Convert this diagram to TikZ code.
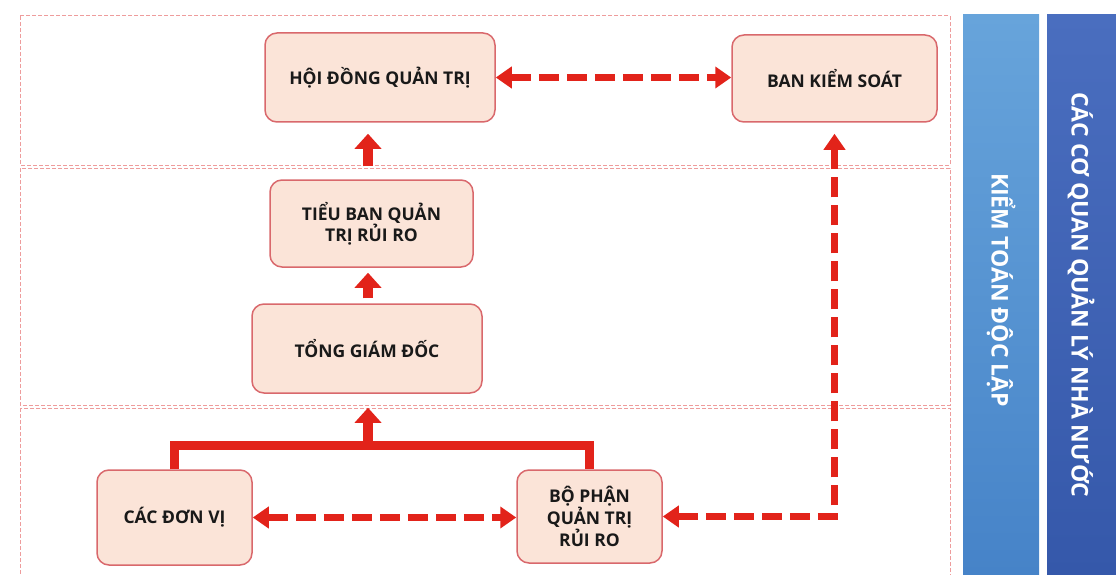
\documentclass[tikz,border=0pt]{standalone}
\usepackage{fontspec}
\setmainfont{Open Sans}
\usetikzlibrary{arrows.meta}
\definecolor{boxfill}{HTML}{FBE4D8}
\definecolor{boxline}{HTML}{D9686C}
\definecolor{arrowred}{HTML}{E2231A}
\definecolor{zoneline}{HTML}{EE9C9C}
\definecolor{barlight}{HTML}{67A4DB}
\definecolor{barlightb}{HTML}{4683C8}
\definecolor{bardark}{HTML}{4A6EBF}
\definecolor{bardarkb}{HTML}{3558AA}
\begin{document}
\begin{tikzpicture}[x=1pt, y=-1pt,
  unitbox/.style={draw=boxline, line width=1.5pt, fill=boxfill, rounded corners=12pt, align=center,
    inner sep=0pt, text=black!90, font=\fontsize{17.5}{21}\selectfont\bfseries},
  zone/.style={draw=zoneline, line width=1pt, dash pattern=on 4pt off 2pt},
  fatarrow/.style={draw=arrowred, line width=10pt, -{Triangle[length=15pt,width=26pt]}},
  dasharrow/.style={draw=arrowred, line width=6.5pt, dash pattern=on 20pt off 8pt,
    {Triangle[length=16pt,width=21pt]}-{Triangle[length=16pt,width=21pt]}},
  bracket/.style={draw=arrowred, line width=9pt, line join=miter},
  bartext/.style={rotate=-90, text=white, font=\fontsize{23}{26}\selectfont\bfseries}]
\useasboundingbox (0,0) rectangle (1116,575);

\draw[zone] (20,16) rectangle (950,165);
\draw[zone] (20,168) rectangle (950,405);
\draw[zone] (20,408) rectangle (950,580);

\shade[top color=barlight, bottom color=barlightb] (963,15) rectangle (1039,575);
\shade[top color=bardark, bottom color=bardarkb] (1047,15) rectangle (1116,575);
\node[bartext] (ktdl) at (1001,290) {KIỂM TOÁN ĐỘC LẬP};
\node[bartext] (cqql) at (1081,295) {CÁC CƠ QUAN QUẢN LÝ NHÀ NƯỚC};

\node[unitbox, minimum width=230pt, minimum height=89pt] (hdqt) at (380,77.5) {HỘI ĐỒNG QUẢN TRỊ};
\node[unitbox, minimum width=205pt, minimum height=87pt] (bks) at (834.5,78.5) {BAN KIỂM SOÁT};
\node[unitbox, minimum width=203pt, minimum height=87pt] (tb) at (371.5,223.5) {TIỂU BAN QUẢN\\TRỊ RỦI RO};
\node[unitbox, minimum width=230pt, minimum height=89pt] (tgd) at (367,348.5) {TỔNG GIÁM ĐỐC};
\node[unitbox, minimum width=155pt, minimum height=95pt] (dv) at (174.5,517.5) {CÁC ĐƠN VỊ};
\node[unitbox, minimum width=145pt, minimum height=93pt] (bp) at (589.5,516.5) {BỘ PHẬN\\QUẢN TRỊ\\RỦI RO};

\coordinate (join) at (368,445);
\draw[bracket] (dv.north) |- (join) -| (bp.north);
\draw[fatarrow, shorten >=14pt] (join) -- (join |- tgd.south);
\draw[fatarrow, shorten <=5pt, shorten >=5pt] (join |- tgd.north) -- (join |- tb.south);
\draw[fatarrow, shorten <=13pt, shorten >=11pt] (join |- tb.north) -- (join |- hdqt.south);

\draw[dasharrow] (hdqt.east) -- (hdqt.east -| bks.west);
\draw[dasharrow] (dv.east) -- (dv.east -| bp.west);
\draw[dasharrow, shorten >=11pt] (bp.east) -| (bks.south);
\end{tikzpicture}
\end{document}
